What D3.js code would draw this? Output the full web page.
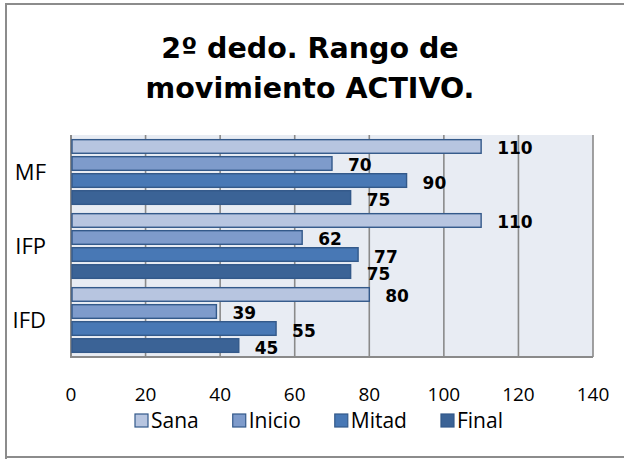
<!DOCTYPE html>
<html>
<head>
<meta charset="utf-8">
<script src="https://cdn.jsdelivr.net/npm/d3@7"></script>
<style>
  html, body { margin: 0; padding: 0; background: #fff; }
  svg { display: block; }
</style>
</head>
<body>
<div id="chart"></div>
<script>
// datos del gráfico
const categories = ['MF', 'IFP', 'IFD'];
const series = ['Sana', 'Inicio', 'Mitad', 'Final'];
const sana = [110, 110, 80];
const inicio = [70, 62, 39];
const mitad = [90, 77, 55];
const final = [75, 75, 45];
const xTicks = [0, 20, 40, 60, 80, 100, 120, 140];
const titleLines = ['2º dedo. Rango de', 'movimiento ACTIVO.'];

const values = [sana, inicio, mitad, final];
const colors = ['#B7C5E0', '#7E9BCB', '#4878B5', '#3B6396'];

const width = 624, height = 459;
const plot = { left: 71, right: 593, top: 135, bottom: 357 };

const svg = d3.select('#chart').append('svg')
  .attr('width', width).attr('height', height);

// marco exterior
svg.append('path')
  .attr('d', 'M6,459 L6,4 L624,4 M6,457 L624,457')
  .attr('fill', 'none').attr('stroke', '#8c8c8c').attr('stroke-width', 2);

// título
svg.append('g').selectAll('text').data(titleLines).enter().append('text')
  .attr('x', 310)
  .attr('y', (d, i) => 58 + i * 40)
  .attr('text-anchor', 'middle')
  .style('font-family', '"DejaVu Sans", Verdana, sans-serif')
  .style('font-weight', 'bold')
  .style('font-size', '28.5px')
  .text(d => d);

// escalas
const x = d3.scaleLinear().domain([0, 140]).range([plot.left, plot.right]);
const y0 = d3.scaleBand().domain(categories).range([plot.top, plot.bottom])
  .paddingInner(0.126).paddingOuter(0.063);
const y1 = d3.scaleBand().domain(series).range([0, y0.bandwidth()])
  .paddingInner(0.2).paddingOuter(0);

// fondo del área de trazado
svg.append('rect')
  .attr('x', plot.left).attr('y', plot.top)
  .attr('width', plot.right - plot.left).attr('height', plot.bottom - plot.top)
  .attr('fill', '#E8ECF3');

// líneas de cuadrícula
svg.append('g').selectAll('line').data(xTicks.slice(1)).enter().append('line')
  .attr('x1', d => x(d)).attr('x2', d => x(d))
  .attr('y1', plot.top).attr('y2', plot.bottom)
  .attr('stroke', '#8a8a8a').attr('stroke-width', 1.6);

// ejes
svg.append('line')
  .attr('x1', plot.left).attr('x2', plot.left)
  .attr('y1', plot.top).attr('y2', plot.bottom + 1)
  .attr('stroke', '#8a8a8a').attr('stroke-width', 2);
svg.append('line')
  .attr('x1', plot.left).attr('x2', plot.right)
  .attr('y1', plot.bottom).attr('y2', plot.bottom)
  .attr('stroke', '#8a8a8a').attr('stroke-width', 2);

// barras
const groups = svg.append('g').selectAll('g').data(categories).enter().append('g')
  .attr('transform', d => 'translate(0,' + y0(d) + ')');

groups.selectAll('rect').data((c, ci) => series.map((s, si) => ({ s, si, v: values[si][ci] })))
  .enter().append('rect')
  .attr('x', x(0) + 1)
  .attr('y', d => y1(d.s))
  .attr('width', d => x(d.v) - x(0) - 1)
  .attr('height', y1.bandwidth())
  .attr('fill', d => colors[d.si])
  .attr('stroke', '#33598A')
  .attr('stroke-width', 1.4);

// etiquetas de datos
groups.selectAll('text').data((c, ci) => series.map((s, si) => ({ s, si, v: values[si][ci] })))
  .enter().append('text')
  .attr('x', d => x(d.v) + 16)
  .attr('y', d => y1(d.s) + y1.bandwidth() / 2 + 8)
  .style('font-family', '"DejaVu Sans", Verdana, sans-serif')
  .style('font-weight', 'bold')
  .style('font-size', '17px')
  .text(d => d.v);

// etiquetas de categoría
svg.append('g').selectAll('text').data(categories).enter().append('text')
  .attr('x', 46)
  .attr('y', d => y0(d) + y0.bandwidth() / 2 + 8)
  .attr('text-anchor', 'end')
  .style('font-family', '"Open Sans", sans-serif')
  .style('font-size', '22px')
  .text(d => d);

// etiquetas del eje X
svg.append('g').selectAll('text').data(xTicks).enter().append('text')
  .attr('x', d => x(d))
  .attr('y', 401)
  .attr('text-anchor', 'middle')
  .style('font-family', '"Open Sans", sans-serif')
  .style('font-size', '19px')
  .text(d => d);

// leyenda
const legend = svg.append('g');
let lx = 135;
series.forEach((s, i) => {
  const item = legend.append('g').attr('transform', 'translate(' + lx + ',0)');
  item.append('rect')
    .attr('x', 0).attr('y', 414)
    .attr('width', 13).attr('height', 13)
    .attr('fill', colors[i]).attr('stroke', '#33598A').attr('stroke-width', 1.2);
  const t = item.append('text')
    .attr('x', 16).attr('y', 428)
    .style('font-family', '"Open Sans", sans-serif')
    .style('font-size', '21px')
    .text(s);
  lx += 16 + t.node().getComputedTextLength() + 34;
});
</script>
</body>
</html>
